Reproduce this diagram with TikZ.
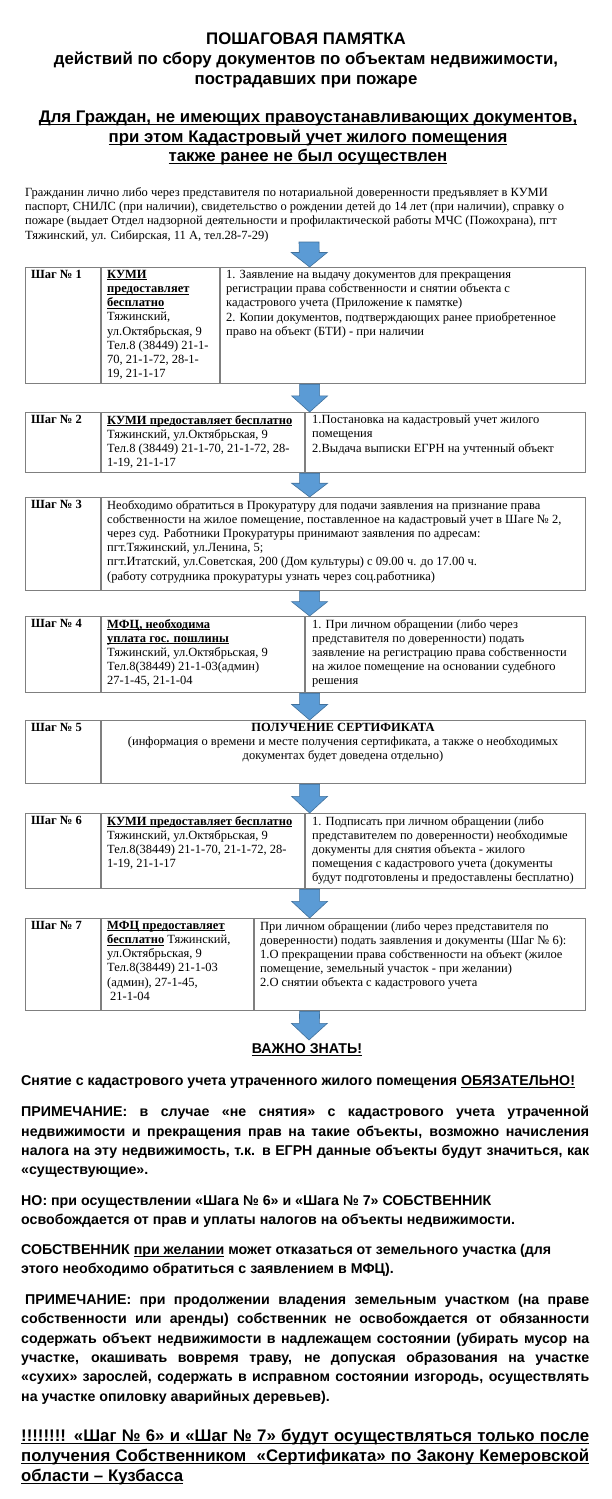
\documentclass[tikz,border=0pt]{standalone}
\usepackage{fontspec}
\setmainfont{Liberation Serif}
\newfontfamily\arialf{Liberation Sans}
\usetikzlibrary{calc}
\definecolor{tblgray}{HTML}{7F7F7F}
\definecolor{arrfill}{HTML}{5B9BD5}
\definecolor{arrdraw}{HTML}{41719C}
\newcommand\ulS[1]{\setbox0\hbox{#1}\rlap{\rule[-1.9pt]{\wd0}{0.8pt}}\box0\relax}
\newcommand\ulA[1]{\setbox0\hbox{#1}\rlap{\rule[-2.6pt]{\wd0}{1.2pt}}\box0\relax}
\newcommand\jl[1]{\makebox[568pt][s]{#1}}
\newcommand\blkarr[2]{%
  \coordinate (ta) at ($(#1)+(4,0)$);
  \coordinate (tb) at ($(#2)+(4,0)$);
  \coordinate (th) at ($(ta)!0.42!(tb)$);
  \filldraw[arrst] ($(ta)+(-10,0)$) -- ($(ta)+(10,0)$) -- ($(th)+(10,0)$) -- ($(th)+(18,0)$) -- (tb) -- ($(th)+(-18,0)$) -- ($(th)+(-10,0)$) -- cycle;}
\begin{document}
\begin{tikzpicture}[x=1pt,y=-1pt,
  tbl/.style={draw=tblgray, line width=1.2pt, inner sep=0pt, anchor=north west},
  dv/.style={draw=tblgray, line width=1.2pt},
  tt/.style={anchor=north west, inner sep=0pt, align=left, font=\fontsize{12.5}{14.2}\selectfont},
  arrst/.style={fill=arrfill, draw=arrdraw, line width=0.6pt},
  ar/.style={anchor=north west, inner sep=0pt, align=left, font=\arialf\bfseries\fontsize{14.2}{19.3}\selectfont}]
\useasboundingbox (0,0) rectangle (612,1499);
\fill[white] (0,0) rectangle (612,1499);

% Title
\node[anchor=north, inner sep=0pt, align=center, font=\arialf\bfseries\fontsize{16.8}{20}\selectfont] (title) at (306,33)
  {ПОШАГОВАЯ ПАМЯТКА\\действий по сбору документов по объектам недвижимости,\\пострадавших при пожаре};
\node[anchor=north, inner sep=0pt, align=center, font=\arialf\bfseries\fontsize{16.8}{19.5}\selectfont] (subtitle) at (308,111)
  {\ulA{Для Граждан, не имеющих правоустанавливающих документов,}\\\ulA{при этом Кадастровый учет жилого помещения}\\\ulA{также ранее не был осуществлен}};

% Intro
\node[tt, font=\fontsize{12.5}{14.4}\selectfont] (intro) at (25,187)
  {Гражданин лично либо через представителя по нотариальной доверенности предъявляет в КУМИ\\
   паспорт, СНИЛС (при наличии), свидетельство о рождении детей до 14 лет (при наличии), справку о\\
   пожаре (выдает Отдел надзорной деятельности и профилактической работы МЧС (Пожохрана), пгт\\
   Тяжинский, ул. Сибирская, 11 А, тел.28-7-29)};
\coordinate (a0) at (305,242);

% Step 1
\node[tbl, minimum width=560pt, minimum height=116pt] (s1) at (25,267) {};
\draw[dv] (101,267) -- (101,383);
\draw[dv] (220,267) -- (220,383);
\node[tt] (s1a) at (31,270) {\textbf{Шаг № 1}};
\node[tt] (s1b) at (107,270) {\ulS{\textbf{КУМИ}}\\\ulS{\textbf{предоставляет}}\\\ulS{\textbf{бесплатно}}\\Тяжинский,\\ул.Октябрьская, 9\\Тел.8 (38449) 21-1-\\70, 21-1-72, 28-1-\\19, 21-1-17};
\node[tt] (s1c) at (226,270) {1. Заявление на выдачу документов для прекращения\\регистрации права собственности и снятии объекта с\\кадастрового учета (Приложение к памятке)\\2. Копии документов, подтверждающих ранее приобретенное\\право на объект (БТИ) - при наличии};

% Step 2
\node[tbl, minimum width=560pt, minimum height=60pt] (s2) at (25,412) {};
\draw[dv] (101,412) -- (101,472);
\draw[dv] (305,412) -- (305,472);
\node[tt] (s2a) at (31,415) {\textbf{Шаг № 2}};
\node[tt] (s2b) at (107,415) {\ulS{\textbf{КУМИ предоставляет бесплатно}}\\Тяжинский, ул.Октябрьская, 9\\Тел.8 (38449) 21-1-70, 21-1-72, 28-\\1-19, 21-1-17};
\node[tt] (s2c) at (312,415) {1.Постановка на кадастровый учет жилого\\помещения\\2.Выдача выписки ЕГРН на учтенный объект};

% Step 3
\node[tbl, minimum width=560pt, minimum height=93pt] (s3) at (25,497) {};
\draw[dv] (101,497) -- (101,590);
\node[tt] (s3a) at (31,500) {\textbf{Шаг № 3}};
\node[tt] (s3b) at (107,500) {Необходимо обратиться в Прокуратуру для подачи заявления на признание права\\собственности на жилое помещение, поставленное на кадастровый учет в Шаге № 2,\\через суд. Работники Прокуратуры принимают заявления по адресам:\\пгт.Тяжинский, ул.Ленина, 5;\\пгт.Итатский, ул.Советская, 200 (Дом культуры) с 09.00 ч. до 17.00 ч.\\(работу сотрудника прокуратуры узнать через соц.работника)};

% Step 4
\node[tbl, minimum width=560pt, minimum height=76pt] (s4) at (25,616) {};
\draw[dv] (101,616) -- (101,692);
\draw[dv] (305,616) -- (305,692);
\node[tt] (s4a) at (31,619) {\textbf{Шаг № 4}};
\node[tt] (s4b) at (107,619) {\ulS{\textbf{МФЦ, необходима}}\\\ulS{\textbf{уплата гос. пошлины}}\\Тяжинский, ул.Октябрьская, 9\\Тел.8(38449) 21-1-03(админ)\\27-1-45, 21-1-04};
\node[tt] (s4c) at (312,619) {1. При личном обращении (либо через\\представителя по доверенности) подать\\заявление на регистрацию права собственности\\на жилое помещение на основании судебного\\решения};

% Step 5
\node[tbl, minimum width=560pt, minimum height=63pt] (s5) at (25,720) {};
\draw[dv] (101,720) -- (101,783);
\node[tt] (s5a) at (31,723) {\textbf{Шаг № 5}};
\node[tt, anchor=north, align=center] (s5b) at (343,723) {\textbf{ПОЛУЧЕНИЕ СЕРТИФИКАТА}\\(информация о времени и месте получения сертификата, а также о необходимых\\документах будет доведена отдельно)};

% Step 6
\node[tbl, minimum width=560pt, minimum height=75pt] (s6) at (25,813) {};
\draw[dv] (101,813) -- (101,888);
\draw[dv] (305,813) -- (305,888);
\node[tt] (s6a) at (31,816) {\textbf{Шаг № 6}};
\node[tt] (s6b) at (107,816) {\ulS{\textbf{КУМИ предоставляет бесплатно}}\\Тяжинский, ул.Октябрьская, 9\\Тел.8(38449) 21-1-70, 21-1-72, 28-\\1-19, 21-1-17};
\node[tt] (s6c) at (312,816) {1. Подписать при личном обращении (либо\\представителем по доверенности) необходимые\\документы для снятия объекта - жилого\\помещения с кадастрового учета (документы\\будут подготовлены и предоставлены бесплатно)};

% Step 7
\node[tbl, minimum width=560pt, minimum height=92pt] (s7) at (25,918) {};
\draw[dv] (101,918) -- (101,1010);
\draw[dv] (254,918) -- (254,1010);
\node[tt] (s7a) at (31,921) {\textbf{Шаг № 7}};
\node[tt] (s7b) at (107,921) {\ulS{\textbf{МФЦ предоставляет}}\\\ulS{\textbf{бесплатно}} Тяжинский,\\ул.Октябрьская, 9\\Тел.8(38449) 21-1-03\\(админ), 27-1-45,\\\hspace{3pt}21-1-04};
\node[tt] (s7c) at (260,921) {При личном обращении (либо через представителя по\\доверенности) подать заявления и документы (Шаг № 6):\\1.О прекращении права собственности на объект (жилое\\помещение, земельный участок - при желании)\\2.О снятии объекта с кадастрового учета};
\coordinate (a8) at (305,1040);

% Arrows
\blkarr{a0}{s1.north}
\blkarr{s1.south}{s2.north}
\blkarr{s2.south}{s3.north}
\blkarr{s3.south}{s4.north}
\blkarr{s4.south}{s5.north}
\blkarr{s5.south}{s6.north}
\blkarr{s6.south}{s7.north}
\blkarr{s7.south}{a8}

% Important
\node[anchor=north, inner sep=0pt, font=\arialf\bfseries\fontsize{14.2}{19.3}\selectfont] (vaz) at (307,1043) {\ulA{ВАЖНО ЗНАТЬ!}};
\node[ar] (p1) at (21,1075) {Снятие с кадастрового учета утраченного жилого помещения \ulA{ОБЯЗАТЕЛЬНО!}};
\node[ar] (p2) at (21,1106) {\jl{ПРИМЕЧАНИЕ: в случае «не снятия» с кадастрового учета утраченной}\\\jl{недвижимости и прекращения прав на такие объекты, возможно начисления}\\\jl{налога на эту недвижимость, т.к. в ЕГРН данные объекты будут значиться, как}\\«существующие».};
\node[ar] (p3) at (21,1195) {НО: при осуществлении «Шага № 6» и «Шага № 7» СОБСТВЕННИК\\освобождается от прав и уплаты налогов на объекты недвижимости.};
\node[ar] (p4) at (21,1244) {СОБСТВЕННИК \ulA{при желании} может отказаться от земельного участка (для\\этого необходимо обратиться с заявлением в МФЦ).};
\node[ar] (p5) at (21,1294) {\jl{\hspace{4pt}ПРИМЕЧАНИЕ: при продолжении владения земельным участком (на праве}\\\jl{собственности или аренды) собственник не освобождается от обязанности}\\\jl{содержать объект недвижимости в надлежащем состоянии (убирать мусор на}\\\jl{участке, окашивать вовремя траву, не допуская образования на участке}\\\jl{«сухих» зарослей, содержать в исправном состоянии изгородь, осуществлять}\\на участке опиловку аварийных деревьев).};
\node[ar, font=\arialf\bfseries\fontsize{16.8}{20}\selectfont] (p6) at (21,1429) {\ulA{\jl{!!!!!!!! «Шаг № 6» и «Шаг № 7» будут осуществляться только после}}\\\ulA{\jl{получения Собственником \ «Сертификата» по Закону Кемеровской}}\\\ulA{области – Кузбасса}};
\end{tikzpicture}
\end{document}
